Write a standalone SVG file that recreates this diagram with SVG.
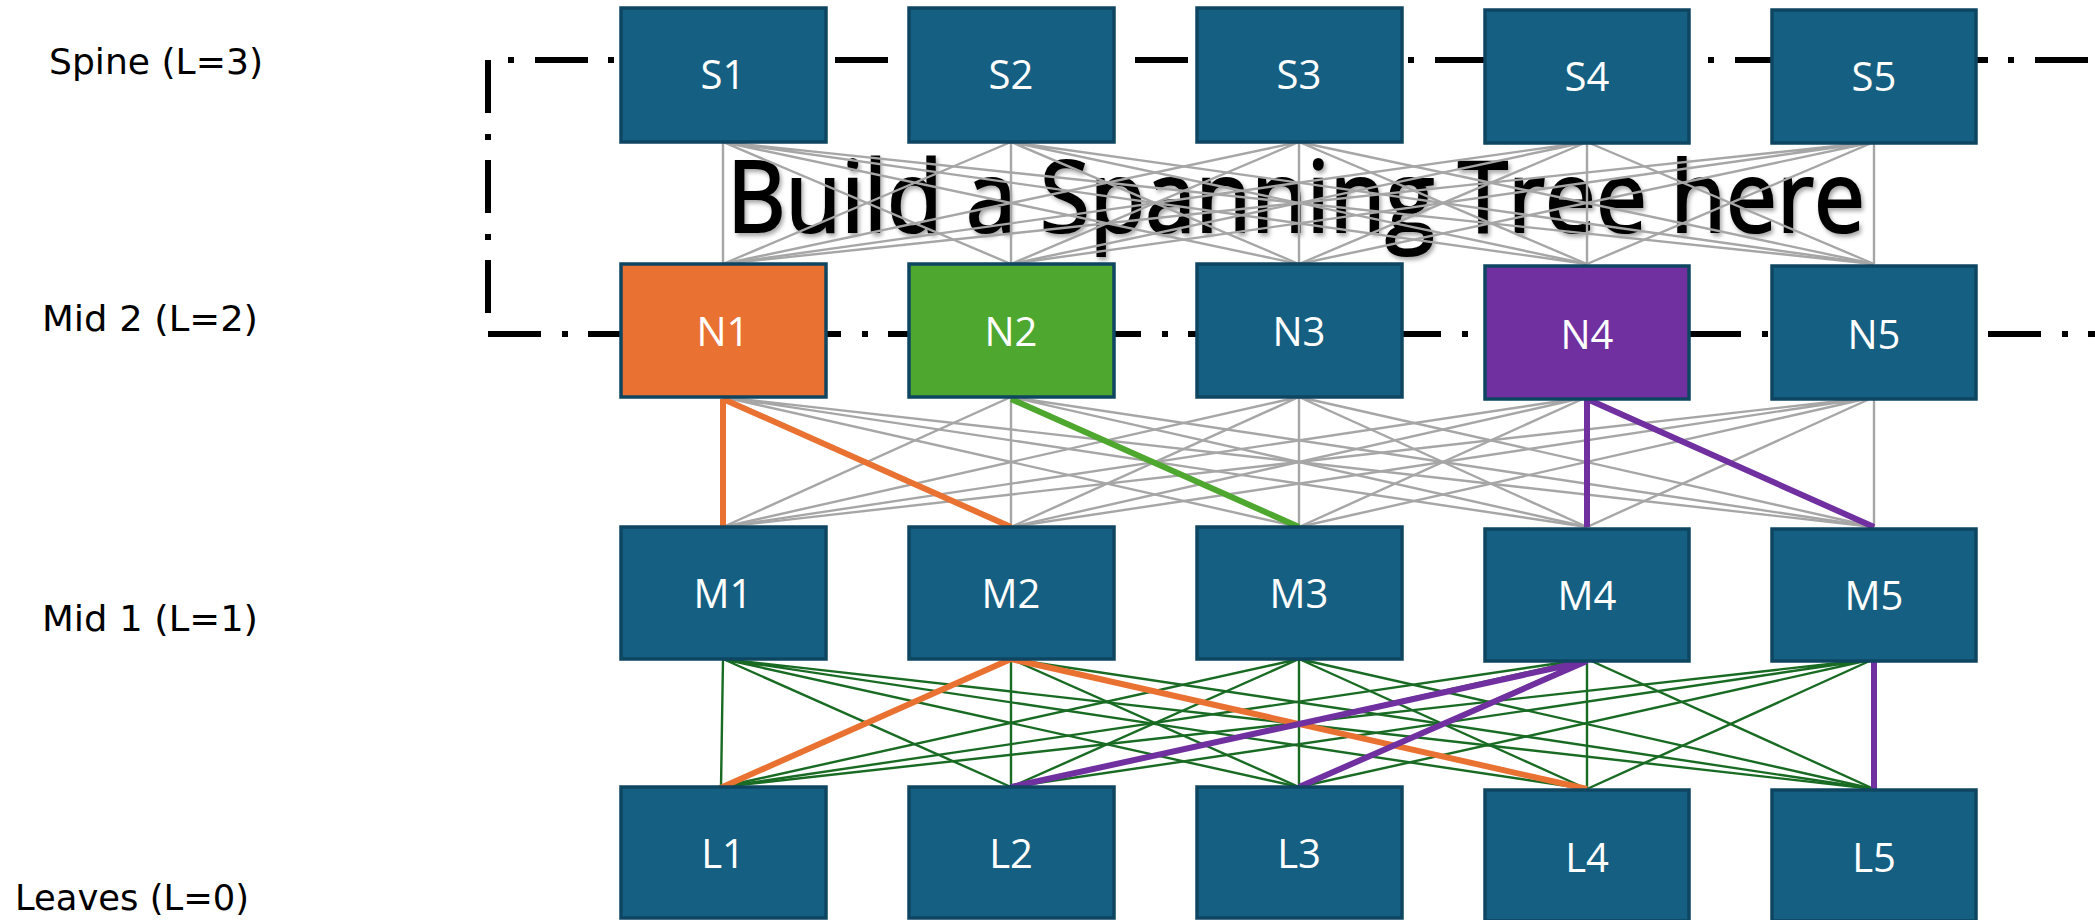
<svg xmlns="http://www.w3.org/2000/svg" width="2095" height="920" viewBox="0 0 2095 920">
<defs>
<filter id="shadow" x="-5%" y="-20%" width="110%" height="140%">
<feDropShadow dx="2" dy="3" stdDeviation="2" flood-color="#000" flood-opacity="0.35"/>
</filter>
</defs>
<style>
.box{fill:#156082;stroke:#0E4661;stroke-width:3.5}
.lbl{font-family:"Open Sans","Noto Sans",sans-serif;font-size:40px;fill:#fff;text-anchor:middle}
.side{font-family:"DejaVu Sans","Noto Sans",sans-serif;font-size:36px;fill:#000}
.frame{stroke:#000;stroke-width:6;fill:none}
.gray{stroke:#A6A6A6;stroke-width:2.4;fill:none}
.dg{stroke:#196B24;stroke-width:2.4;fill:none}
.or{stroke:#E97132;stroke-width:6;fill:none}
.gr{stroke:#4EA72E;stroke-width:6;fill:none}
.pu{stroke:#7030A0;stroke-width:6;fill:none}
</style>
<rect width="2095" height="920" fill="#fff"/>

<g id="layer-labels">
<text class="side" x="49" y="74" textLength="214" lengthAdjust="spacingAndGlyphs">Spine (L=3)</text>
<text class="side" x="42" y="331" textLength="216" lengthAdjust="spacingAndGlyphs">Mid 2 (L=2)</text>
<text class="side" x="42" y="631" textLength="216" lengthAdjust="spacingAndGlyphs">Mid 1 (L=1)</text>
<text class="side" x="15" y="910" textLength="234" lengthAdjust="spacingAndGlyphs">Leaves (L=0)</text>
</g>

<g id="frame">
<line class="frame" x1="488" y1="60" x2="488" y2="334" stroke-dasharray="53 21 6 20"/>
<line class="frame" x1="488" y1="60" x2="2095" y2="60" stroke-dasharray="53 20 6 21" stroke-dashoffset="53"/>
<line class="frame" x1="488" y1="334" x2="2095" y2="334" stroke-dasharray="53 21 6 20"/>
</g>

<g id="title">
<text x="727" y="232" font-family="'Open Sans','Noto Sans',sans-serif" font-size="98" fill="#000" stroke="#000" stroke-width="2.2" textLength="1138" lengthAdjust="spacingAndGlyphs" filter="url(#shadow)">Build a Spanning Tree here</text>
</g>

<g id="connectors">
<path class="gray" d="M723 142L723 264M723 142L1011 264M723 142L1299 264M723 142L1587 264M723 142L1874 264"/>
<path class="gray" d="M1011 142L723 264M1011 142L1011 264M1011 142L1299 264M1011 142L1587 264M1011 142L1874 264"/>
<path class="gray" d="M1299 142L723 264M1299 142L1011 264M1299 142L1299 264M1299 142L1587 264M1299 142L1874 264"/>
<path class="gray" d="M1587 142L723 264M1587 142L1011 264M1587 142L1299 264M1587 142L1587 264M1587 142L1874 264"/>
<path class="gray" d="M1874 142L723 264M1874 142L1011 264M1874 142L1299 264M1874 142L1587 264M1874 142L1874 264"/>

<path class="gray" d="M723 397L723 527M723 397L1011 527M723 397L1299 527M723 397L1587 527M723 397L1874 527"/>
<path class="gray" d="M1011 397L723 527M1011 397L1011 527M1011 397L1299 527M1011 397L1587 527M1011 397L1874 527"/>
<path class="gray" d="M1299 397L723 527M1299 397L1011 527M1299 397L1299 527M1299 397L1587 527M1299 397L1874 527"/>
<path class="gray" d="M1587 397L723 527M1587 397L1011 527M1587 397L1299 527M1587 397L1587 527M1587 397L1874 527"/>
<path class="gray" d="M1874 397L723 527M1874 397L1011 527M1874 397L1299 527M1874 397L1587 527M1874 397L1874 527"/>

<path class="dg" d="M723 659L721 787M723 659L1011 787M723 659L1299 787M723 659L1587 789M723 659L1874 789"/>
<path class="dg" d="M1011 659L721 787M1011 659L1011 787M1011 659L1299 787M1011 659L1587 789M1011 659L1874 789"/>
<path class="dg" d="M1299 659L721 787M1299 659L1011 787M1299 659L1299 787M1299 659L1587 789M1299 659L1874 789"/>
<path class="dg" d="M1587 659L721 787M1587 659L1011 787M1587 659L1299 787M1587 659L1587 789M1587 659L1874 789"/>
<path class="dg" d="M1874 659L721 787M1874 659L1011 787M1874 659L1299 787M1874 659L1587 789M1874 659L1874 789"/>

<path class="or" d="M723 399L723 527M723 399L1011 527"/>
<path class="gr" d="M1011 399L1299 527"/>
<path class="pu" d="M1587 399L1587 527M1587 399L1874 527"/>
<path class="or" d="M1011 659L718 789M1011 659L1587 789"/>
<path class="pu" d="M1587 661L1011 787M1587 661L1299 787M1874 661L1874 789"/>
</g>

<g id="S1"><rect class="box" x="621" y="8" width="205" height="134"/><text class="lbl" x="723" y="89">S1</text></g>
<g id="S2"><rect class="box" x="909" y="8" width="205" height="134"/><text class="lbl" x="1011" y="89">S2</text></g>
<g id="S3"><rect class="box" x="1197" y="8" width="205" height="134"/><text class="lbl" x="1299" y="89">S3</text></g>
<g id="S4"><rect class="box" x="1485" y="10" width="204" height="133"/><text class="lbl" x="1587" y="91">S4</text></g>
<g id="S5"><rect class="box" x="1772" y="10" width="204" height="133"/><text class="lbl" x="1874" y="91">S5</text></g>

<g id="N1"><rect class="box" x="621" y="264" width="205" height="133" style="fill:#E97132"/><text class="lbl" x="723" y="346">N1</text></g>
<g id="N2"><rect class="box" x="909" y="264" width="205" height="133" style="fill:#4EA72E"/><text class="lbl" x="1011" y="346">N2</text></g>
<g id="N3"><rect class="box" x="1197" y="264" width="205" height="133"/><text class="lbl" x="1299" y="346">N3</text></g>
<g id="N4"><rect class="box" x="1485" y="266" width="204" height="133" style="fill:#7030A0"/><text class="lbl" x="1587" y="349">N4</text></g>
<g id="N5"><rect class="box" x="1772" y="266" width="204" height="133"/><text class="lbl" x="1874" y="349">N5</text></g>

<g id="M1"><rect class="box" x="621" y="527" width="205" height="132"/><text class="lbl" x="723" y="608">M1</text></g>
<g id="M2"><rect class="box" x="909" y="527" width="205" height="132"/><text class="lbl" x="1011" y="608">M2</text></g>
<g id="M3"><rect class="box" x="1197" y="527" width="205" height="132"/><text class="lbl" x="1299" y="608">M3</text></g>
<g id="M4"><rect class="box" x="1485" y="529" width="204" height="132"/><text class="lbl" x="1587" y="610">M4</text></g>
<g id="M5"><rect class="box" x="1772" y="529" width="204" height="132"/><text class="lbl" x="1874" y="610">M5</text></g>

<g id="L1"><rect class="box" x="621" y="787" width="205" height="131"/><text class="lbl" x="723" y="868">L1</text></g>
<g id="L2"><rect class="box" x="909" y="787" width="205" height="131"/><text class="lbl" x="1011" y="868">L2</text></g>
<g id="L3"><rect class="box" x="1197" y="787" width="205" height="131"/><text class="lbl" x="1299" y="868">L3</text></g>
<g id="L4"><rect class="box" x="1485" y="790" width="204" height="131"/><text class="lbl" x="1587" y="872">L4</text></g>
<g id="L5"><rect class="box" x="1772" y="790" width="204" height="131"/><text class="lbl" x="1874" y="872">L5</text></g>
</svg>
